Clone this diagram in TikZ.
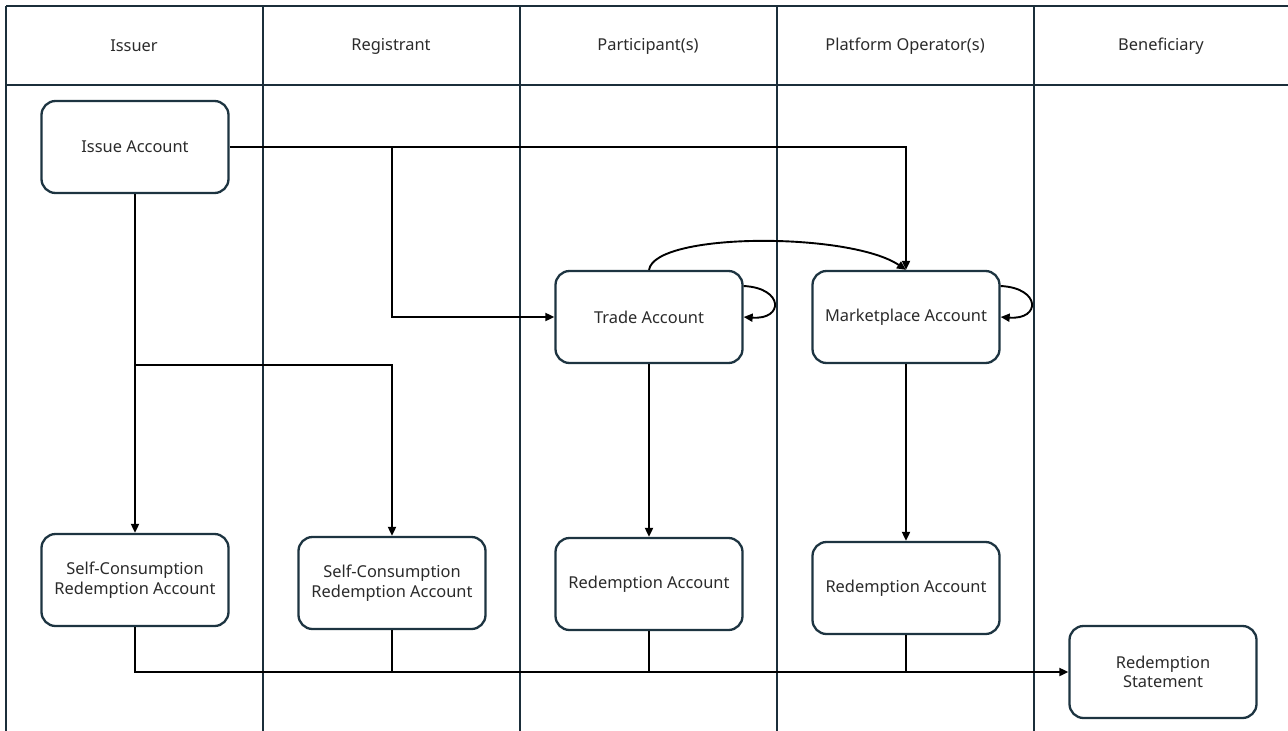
\documentclass[tikz,border=0pt]{standalone}
\usepackage{fontspec}
\setmainfont{Noto Sans}
\usetikzlibrary{arrows.meta}
\definecolor{lane}{HTML}{1B2E3A}
\definecolor{boxline}{HTML}{1D3441}
\definecolor{ink}{HTML}{2B2B2B}
\begin{document}
\begin{tikzpicture}[x=1pt, y=-1pt,
  laneline/.style={draw=lane, line width=2.5pt},
  account/.style={draw=boxline, line width=2.3pt, rounded corners=14pt, fill=white,
    minimum width=187pt, minimum height=92pt, align=center, text=ink,
    font=\fontsize{16.4}{19.5}\selectfont, inner sep=2pt},
  lanehead/.style={text=ink, font=\fontsize{16.4}{19.5}\selectfont},
  flow/.style={draw=black, line width=1.9pt, -{Triangle[length=9pt,width=8pt]}},
  feeder/.style={draw=black, line width=1.9pt}]
\useasboundingbox (0,0) rectangle (1288,731);

% swimlane grid
\draw[laneline] (6,6) -- (1288,6);
\draw[laneline] (6,85) -- (1288,85);
\foreach \lx in {6,263,520,777,1034}
  \draw[laneline] (\lx,6) -- (\lx,731);

% lane titles
\node[lanehead] (hIssuer) at (134,46) {Issuer};
\node[lanehead] (hReg) at (391,46) {Registrant};
\node[lanehead] (hPart) at (648,46) {Participant(s)};
\node[lanehead] (hPlat) at (905,46) {Platform Operator(s)};
\node[lanehead] (hBen) at (1161,46) {Beneficiary};

% accounts
\node[account] (issue) at (135,147) {Issue Account};
\node[account] (trade) at (649,317) {Trade Account};
\node[account] (market) at (906,317) {Marketplace Account};
\node[account] (scIss) at (135,580) {Self-Consumption\\Redemption Account};
\node[account] (scReg) at (392,583) {Self-Consumption\\Redemption Account};
\node[account] (redPart) at (649,584) {Redemption Account};
\node[account] (redPlat) at (906,588) {Redemption Account};
\node[account] (stmt) at (1163,672) {Redemption\\Statement};

% branch points
\coordinate (splitTop) at (392,147);
\coordinate (splitLow) at (135,365);

% issuance flows
\draw[flow] (issue.east) -| (market.north);
\draw[flow] (splitTop) |- (trade.west);
\draw[flow] (issue.south) -- (scIss.north);
\draw[flow] (splitLow) -| (scReg.north);

% trading flows
\draw[flow] (trade.north) .. controls (655,232) and (850,232) .. (market.north);
\draw[flow] (trade.east) ++(0,-31) coordinate (tLoop)
  .. controls (784,288) and (784,320) .. (trade.east);
\draw[flow] (market.east) ++(0,-31) coordinate (mLoop)
  .. controls (1041,288) and (1041,320) .. (market.east);
\draw[flow] (trade.south) -- (redPart.north);
\draw[flow] (market.south) -- (redPlat.north);

% redemption flows
\draw[flow] (scIss.south) |- (stmt.west);
\draw[feeder] (scReg.south) -- (scReg.south |- stmt.west);
\draw[feeder] (redPart.south) -- (redPart.south |- stmt.west);
\draw[feeder] (redPlat.south) -- (redPlat.south |- stmt.west);
\end{tikzpicture}
\end{document}
